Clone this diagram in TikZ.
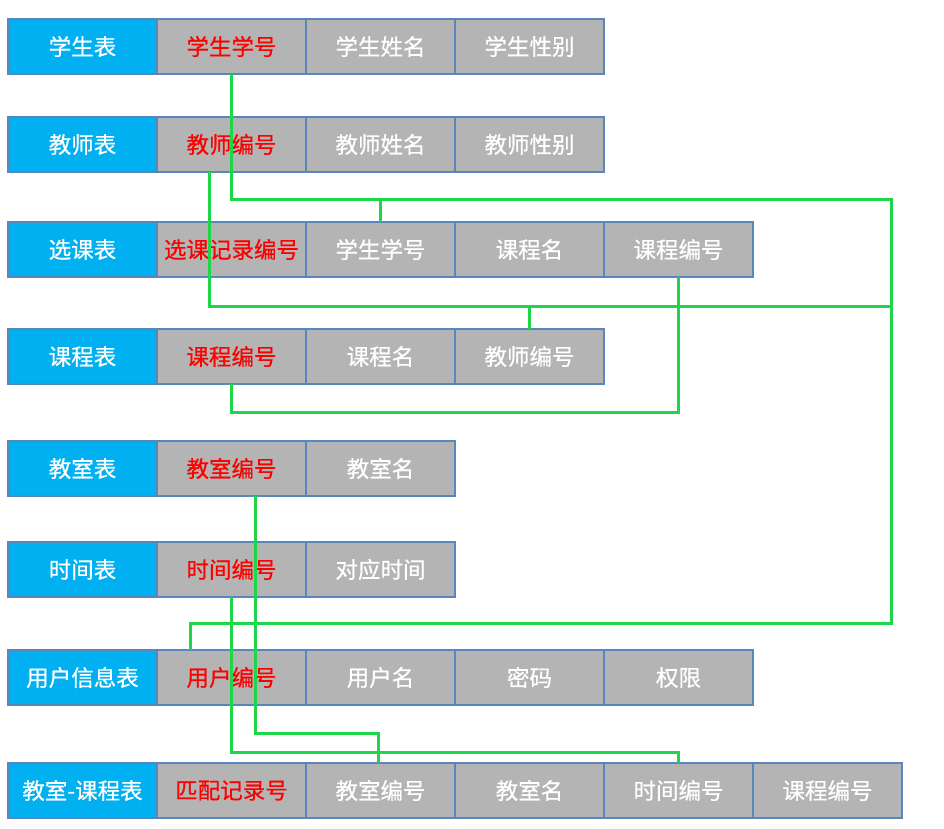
\documentclass[tikz,border=0pt]{standalone}
\usepackage{fontspec}
\setmainfont{Noto Sans CJK SC}[FakeBold=0.6]
\definecolor{hdrblue}{HTML}{00B0F0}
\definecolor{cellgray}{HTML}{B4B4B4}
\definecolor{edgeblue}{HTML}{5A86BE}
\definecolor{linkgreen}{HTML}{1ED64A}
\definecolor{keyred}{HTML}{FF0000}
\tikzset{
  cellbase/.style={draw=edgeblue, line width=1.8pt, minimum width=149pt, minimum height=55pt,
    inner sep=0pt, outer sep=0pt, anchor=north west, font=\fontsize{22.5}{26}\selectfont},
  hdr/.style={cellbase, fill=hdrblue, text=white},
  keycell/.style={cellbase, fill=cellgray, text=keyred},
  plain/.style={cellbase, fill=cellgray, text=white},
  link/.style={draw=linkgreen, line width=3pt, line join=miter}
}
\begin{document}
\begin{tikzpicture}[x=1pt,y=-1pt]
\useasboundingbox (0,0) rectangle (944,829);
% Row 1
\node[hdr] (r1c0) at (8,19) {学生表};
\node[keycell] (r1c1) at (157,19) {学生学号};
\node[plain] (r1c2) at (306,19) {学生姓名};
\node[plain] (r1c3) at (455,19) {学生性别};
% Row 2
\node[hdr] (r2c0) at (8,117) {教师表};
\node[keycell] (r2c1) at (157,117) {教师编号};
\node[plain] (r2c2) at (306,117) {教师姓名};
\node[plain] (r2c3) at (455,117) {教师性别};
% Row 3
\node[hdr] (r3c0) at (8,222) {选课表};
\node[keycell] (r3c1) at (157,222) {选课记录编号};
\node[plain] (r3c2) at (306,222) {学生学号};
\node[plain] (r3c3) at (455,222) {课程名};
\node[plain] (r3c4) at (604,222) {课程编号};
% Row 4
\node[hdr] (r4c0) at (8,329) {课程表};
\node[keycell] (r4c1) at (157,329) {课程编号};
\node[plain] (r4c2) at (306,329) {课程名};
\node[plain] (r4c3) at (455,329) {教师编号};
% Row 5
\node[hdr] (r5c0) at (8,441) {教室表};
\node[keycell] (r5c1) at (157,441) {教室编号};
\node[plain] (r5c2) at (306,441) {教室名};
% Row 6
\node[hdr] (r6c0) at (8,542) {时间表};
\node[keycell] (r6c1) at (157,542) {时间编号};
\node[plain] (r6c2) at (306,542) {对应时间};
% Row 7
\node[hdr] (r7c0) at (8,650) {用户信息表};
\node[keycell] (r7c1) at (157,650) {用户编号};
\node[plain] (r7c2) at (306,650) {用户名};
\node[plain] (r7c3) at (455,650) {密码};
\node[plain] (r7c4) at (604,650) {权限};
% Row 8
\node[hdr] (r8c0) at (8,763) {教室-课程表};
\node[keycell] (r8c1) at (157,763) {匹配记录号};
\node[plain] (r8c2) at (306,763) {教室编号};
\node[plain] (r8c3) at (455,763) {教室名};
\node[plain] (r8c4) at (604,763) {时间编号};
\node[plain] (r8c5) at (753,763) {课程编号};
% connectors
\coordinate (busR) at (891,199);
\draw[link] (r1c1.south) |- (busR) -- (891,623) -| ([xshift=-41.5pt]r7c1.north);
\draw[link] (r3c2.north) -- (r3c2.north |- busR);
\draw[link] ([xshift=-22.5pt]r2c1.south) |- (891,306);
\draw[link] (r4c3.north) -- (r4c3.north |- 0,306);
\draw[link] (r3c4.south) -- (r3c4.south |- 0,412) -| (r4c1.south);
\draw[link] ([xshift=23.5pt]r5c1.south) -- ([xshift=23.5pt]r5c1.south |- 0,733) -| ([xshift=-2.5pt]r8c2.north);
\draw[link] (r6c1.south) -- (r6c1.south |- 0,752) -| (r8c4.north);
\end{tikzpicture}
\end{document}
